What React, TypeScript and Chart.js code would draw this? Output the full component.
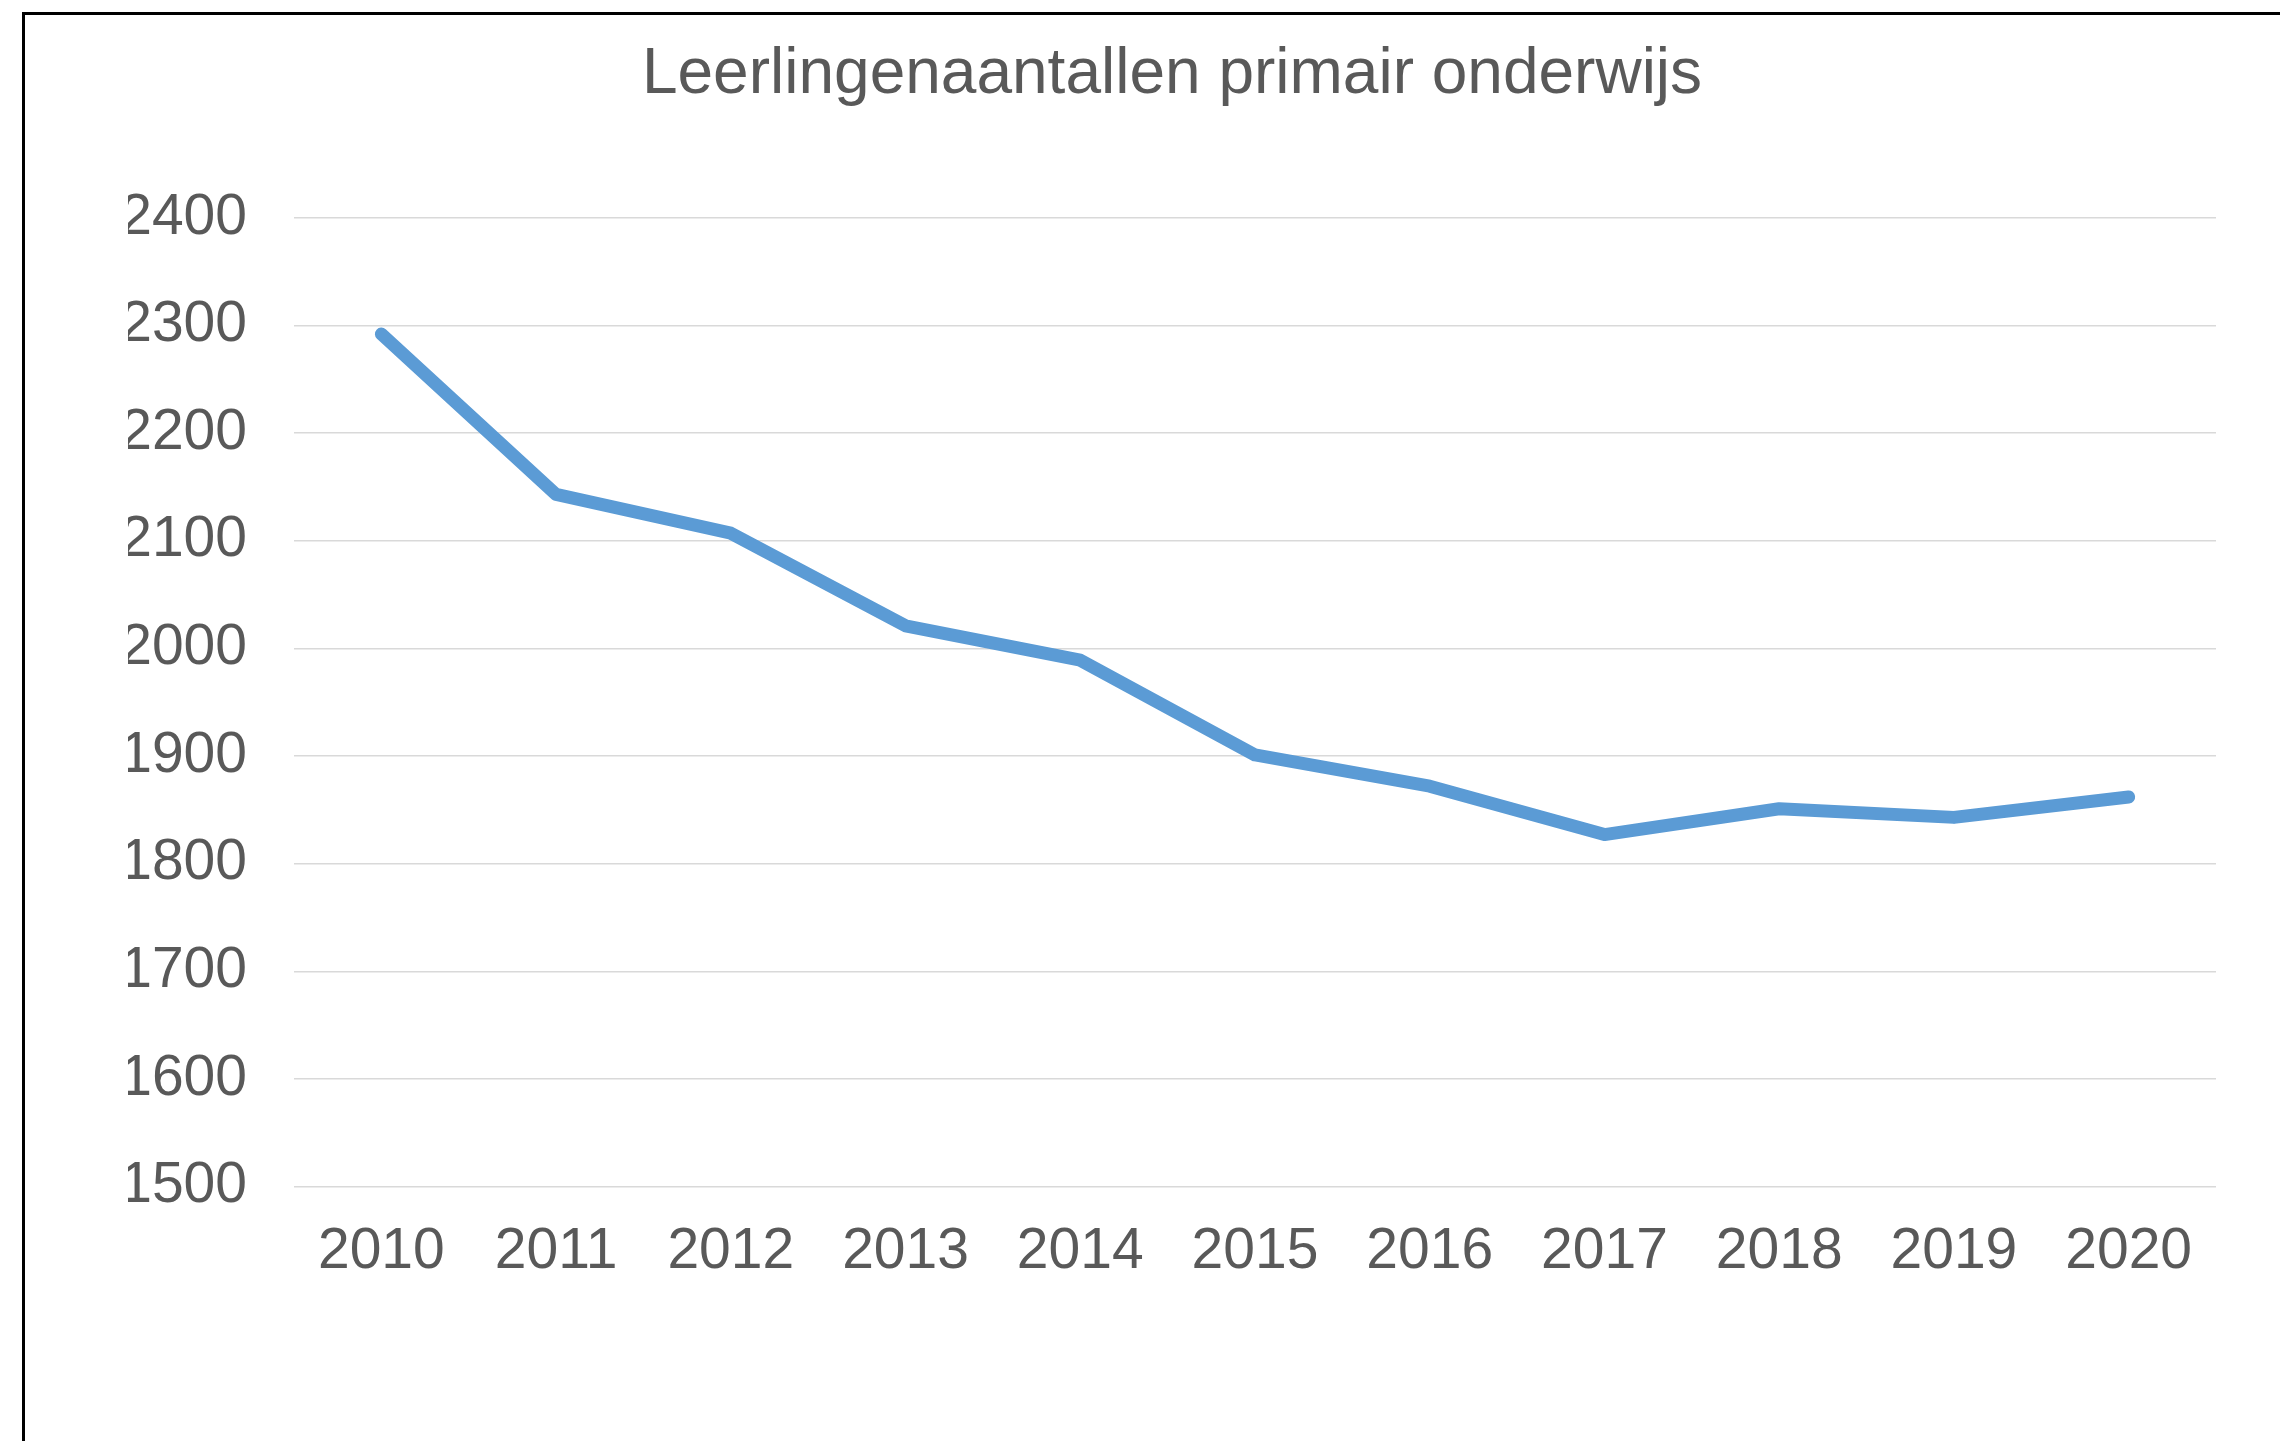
import React, { useEffect, useRef } from "react";
import { Chart, registerables } from "chart.js";

Chart.register(...registerables);

const chartTitle = "Leerlingenaantallen primair onderwijs";
const years = ["2010", "2011", "2012", "2013", "2014", "2015", "2016", "2017", "2018", "2019", "2020"];
const pupils = [2292, 2143, 2107, 2021, 1989, 1901, 1872, 1827, 1851, 1843, 1862];
const yMin = 1500;
const yMax = 2400;
const yStep = 100;

const FONT = "'Liberation Sans', Arial, sans-serif";
const TEXT = "#595959";

export default function App() {
  const ref = useRef<HTMLCanvasElement | null>(null);

  useEffect(() => {
    if (!ref.current) return;
    const chart = new Chart(ref.current, {
      type: "line",
      data: {
        labels: years,
        datasets: [
          {
            data: pupils,
            borderColor: "#5B9BD5",
            backgroundColor: "#5B9BD5",
            borderWidth: 13,
            borderCapStyle: "round",
            borderJoinStyle: "round",
            pointRadius: 0,
            tension: 0,
          },
        ],
      },
      options: {
        animation: false,
        responsive: false,
        maintainAspectRatio: false,
        devicePixelRatio: 1,
        layout: { padding: { left: 128, right: 64, top: 37, bottom: 124 } },
        plugins: {
          legend: { display: false },
          tooltip: { enabled: false },
          title: {
            display: true,
            text: chartTitle,
            color: TEXT,
            font: { family: FONT, size: 64, weight: "normal" },
            padding: { top: 0, bottom: 104 },
          },
        },
        scales: {
          x: {
            offset: true,
            grid: { display: false, drawTicks: false },
            border: { display: false },
            ticks: {
              color: TEXT,
              font: { family: FONT, size: 57 },
              padding: 31,
              maxRotation: 0,
              autoSkip: false,
            },
          },
          y: {
            min: yMin,
            max: yMax,
            grid: { color: "#D9D9D9", lineWidth: 1.5, drawTicks: false },
            border: { display: false },
            ticks: {
              stepSize: yStep,
              color: TEXT,
              font: { family: FONT, size: 57 },
              padding: 47,
              callback: (v: any) => String(v),
            },
            afterFit: (scale: any) => {
              scale.width = 166;
            },
          },
        },
      },
    });
    return () => chart.destroy();
  }, []);

  return (
    <div style={{ position: "absolute", left: 0, top: 0, width: 2280, height: 1441, background: "#fff", overflow: "hidden" }}>
      <canvas ref={ref} width={2280} height={1441} style={{ position: "absolute", left: 0, top: 0, width: 2280, height: 1441 }} />
      <div
        style={{
          position: "absolute",
          left: 22,
          top: 12,
          width: 2400,
          height: 1600,
          borderLeft: "3px solid #000",
          borderTop: "3px solid #000",
          pointerEvents: "none",
        }}
      />
    </div>
  );
}
